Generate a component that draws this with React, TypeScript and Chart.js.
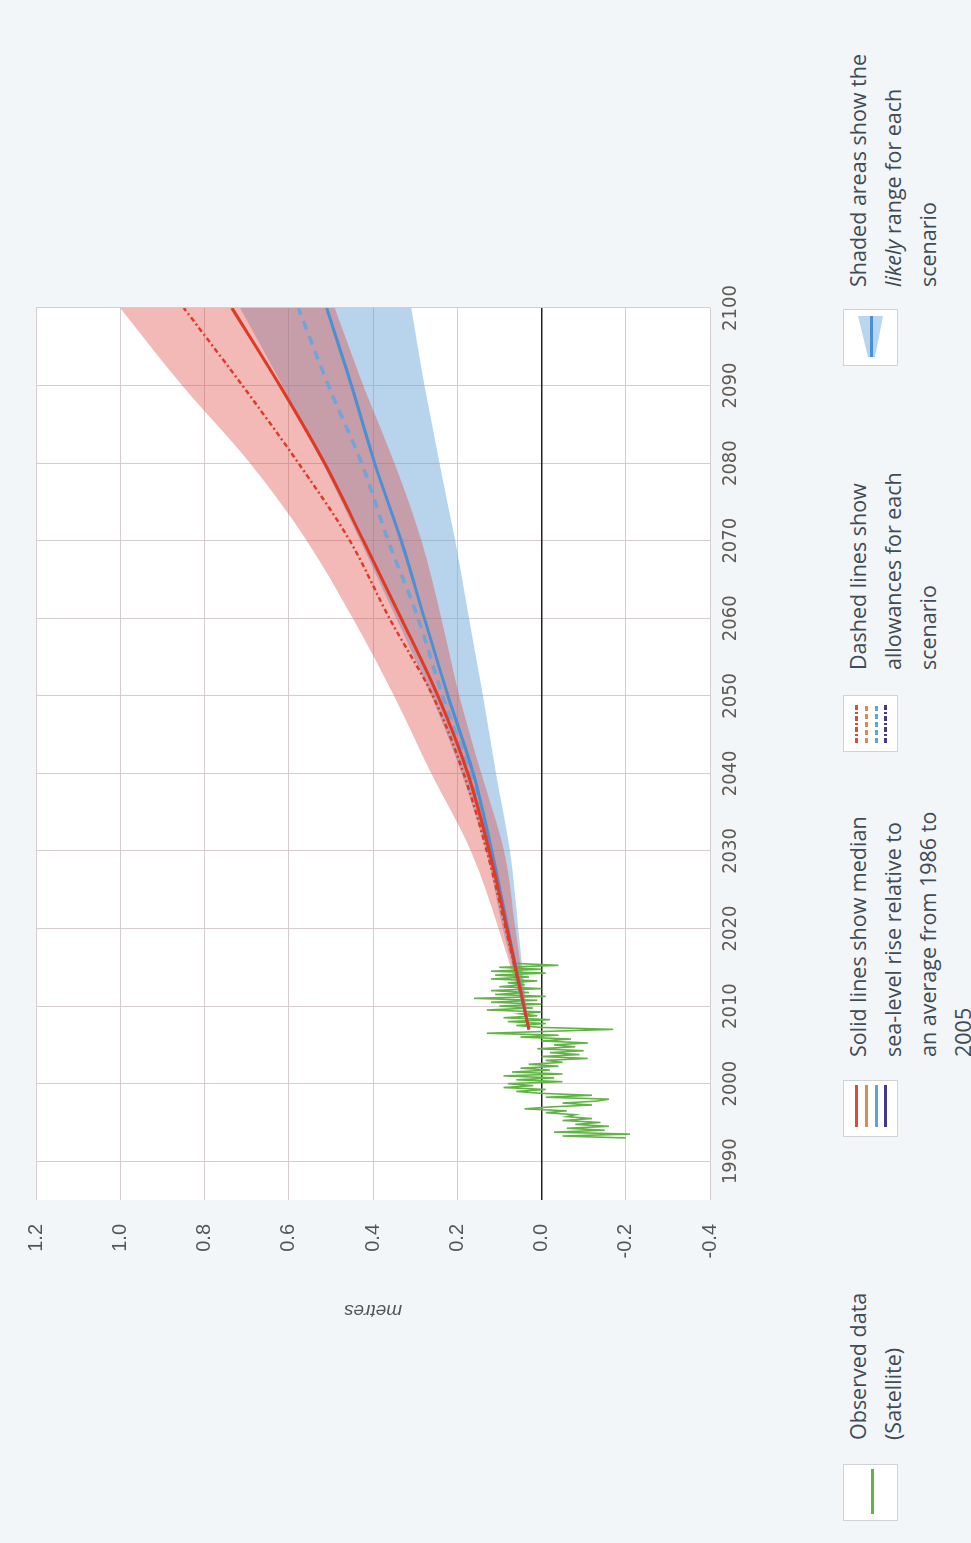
import React, { useEffect, useRef } from 'react';
import { Chart, registerables } from 'chart.js';

Chart.register(...registerables);

// ---- axes ----
const yearTicks = [1990, 2000, 2010, 2020, 2030, 2040, 2050, 2060, 2070, 2080, 2090, 2100];
const yearMin = 1985;
const yearMax = 2100;
const metreMin = -0.4;
const metreMax = 1.2;
const metreStep = 0.2;

// ---- observed satellite data (quarterly) ----
const obsYears = [
  1993.0, 1993.25, 1993.5, 1993.75, 1994.0, 1994.25, 1994.5, 1994.75,
  1995.0, 1995.25, 1995.5, 1995.75, 1996.0, 1996.25, 1996.5, 1996.75,
  1997.0, 1997.25, 1997.5, 1997.75, 1998.0, 1998.25, 1998.5, 1998.75,
  1999.0, 1999.25, 1999.5, 1999.75, 2000.0, 2000.25, 2000.5, 2000.75,
  2001.0, 2001.25, 2001.5, 2001.75, 2002.0, 2002.25, 2002.5, 2002.75,
  2003.0, 2003.25, 2003.5, 2003.75, 2004.0, 2004.25, 2004.5, 2004.75,
  2005.0, 2005.25, 2005.5, 2005.75, 2006.0, 2006.25, 2006.5, 2006.75,
  2007.0, 2007.25, 2007.5, 2007.75, 2008.0, 2008.25, 2008.5, 2008.75,
  2009.0, 2009.25, 2009.5, 2009.75, 2010.0, 2010.25, 2010.5, 2010.75,
  2011.0, 2011.25, 2011.5, 2011.75, 2012.0, 2012.25, 2012.5, 2012.75,
  2013.0, 2013.25, 2013.5, 2013.75, 2014.0, 2014.25, 2014.5, 2014.75,
  2015.0, 2015.25, 2015.5,
];
const obsValues = [
  -0.20, -0.05, -0.21, -0.03, -0.15, -0.06, -0.16, -0.08,
  -0.14, -0.05, -0.12, -0.06, -0.08, -0.01, -0.06, 0.04,
  -0.02, -0.12, -0.05, -0.13, -0.16, -0.01, -0.12, 0.00,
  0.06, -0.01, 0.09, 0.02, 0.08, -0.05, 0.06, -0.03,
  0.09, -0.05, 0.07, -0.02, 0.05, -0.04, 0.03, -0.05,
  -0.01, -0.11, 0.00, -0.09, -0.02, -0.10, 0.01, -0.08,
  -0.03, -0.11, 0.00, -0.07, 0.05, -0.04, 0.13, -0.02,
  -0.17, 0.00, 0.06, -0.01, 0.08, -0.02, 0.09, 0.01,
  0.05, 0.00, 0.13, 0.02, 0.10, 0.00, 0.12, 0.01,
  0.16, -0.01, 0.11, 0.03, 0.12, 0.00, 0.10, 0.04,
  0.08, 0.01, 0.12, 0.03, 0.11, -0.01, 0.12, 0.00,
  0.10, -0.04, 0.06,
];

// ---- projections ----
const projYears = [2007, 2020, 2030, 2040, 2050, 2060, 2070, 2080, 2090, 2100];
const redMedian = [0.03, 0.082, 0.124, 0.175, 0.246, 0.333, 0.423, 0.515, 0.621, 0.735];
const redAllowance = [0.03, 0.085, 0.13, 0.185, 0.258, 0.361, 0.455, 0.577, 0.71, 0.849];
const redUpper = [0.03, 0.102, 0.168, 0.262, 0.35, 0.448, 0.557, 0.692, 0.853, 1.0];
const redLower = [0.03, 0.062, 0.089, 0.143, 0.195, 0.238, 0.285, 0.349, 0.423, 0.491];
const blueMedian = [0.03, 0.08, 0.118, 0.162, 0.222, 0.278, 0.333, 0.396, 0.451, 0.51];
const blueAllowance = [0.03, 0.082, 0.122, 0.17, 0.235, 0.293, 0.364, 0.427, 0.506, 0.577];
const blueUpper = [0.03, 0.092, 0.132, 0.19, 0.262, 0.345, 0.43, 0.52, 0.615, 0.716];
const blueLower = [0.03, 0.055, 0.075, 0.108, 0.139, 0.172, 0.205, 0.242, 0.278, 0.309];

const zip = (xs: number[], ys: number[]) => xs.map((x, i) => ({ x, y: ys[i] }));

const plotBg = {
  id: 'plotBg',
  beforeDraw(chart: any) {
    const { ctx, chartArea: a } = chart;
    ctx.save();
    ctx.fillStyle = '#ffffff';
    ctx.fillRect(a.left, a.top, a.right - a.left, a.bottom - a.top);
    ctx.restore();
  },
};

const legendText: React.CSSProperties = {
  position: 'absolute',
  top: 840,
  fontFamily: "'Open Sans', 'Noto Sans', sans-serif",
  fontSize: 21.5,
  lineHeight: '35px',
  color: '#3f4b57',
  whiteSpace: 'nowrap',
};

const box: React.CSSProperties = {
  position: 'absolute',
  top: 843,
  width: 57,
  height: 55,
  border: '1px solid #cfd3d6',
  background: '#ffffff',
  boxSizing: 'border-box',
};

const swatchLine = (top: number, left: number, width: number, bg: string): React.CSSProperties => ({
  position: 'absolute',
  top,
  left,
  width,
  height: 3,
  background: bg,
});

const dashDot = (c: string) =>
  `repeating-linear-gradient(90deg, ${c} 0 5px, transparent 5px 7px, ${c} 7px 9px, transparent 9px 11px)`;
const dashed = (c: string) =>
  `repeating-linear-gradient(90deg, ${c} 0 5px, transparent 5px 8px)`;

export default function App() {
  const ref = useRef<HTMLCanvasElement>(null);

  useEffect(() => {
    if (!ref.current) return;
    const line = (data: any, color: string, width: number, order: number, extra: any = {}) => ({
      data,
      borderColor: color,
      borderWidth: width,
      pointRadius: 0,
      fill: false,
      order,
      cubicInterpolationMode: 'monotone',
      ...extra,
    });
    const chart = new Chart(ref.current, {
      type: 'line',
      data: {
        datasets: [
          line(zip(projYears, blueLower), 'transparent', 0, 10),
          line(zip(projYears, blueUpper), 'transparent', 0, 9, {
            fill: '-1',
            backgroundColor: 'rgba(95,160,212,0.45)',
          }),
          line(zip(projYears, redLower), 'transparent', 0, 8),
          line(zip(projYears, redUpper), 'transparent', 0, 7, {
            fill: '-1',
            backgroundColor: 'rgba(222,72,62,0.38)',
          }),
          line(zip(obsYears, obsValues), '#62b346', 1.6, 5, { cubicInterpolationMode: 'default', tension: 0 }),
          line(zip(projYears, blueAllowance), 'rgba(105,163,220,0.9)', 3.5, 4, { borderDash: [9, 7] }),
          line(zip(projYears, blueMedian), '#4b90d2', 3, 3),
          line(zip(projYears, redAllowance), '#e03a27', 2.5, 2, { borderDash: [5, 3, 2, 3] }),
          line(zip(projYears, redMedian), '#e03a27', 3, 1),
        ] as any,
      },
      options: {
        animation: false,
        responsive: true,
        maintainAspectRatio: false,
        events: [],
        layout: { padding: { left: 217, right: 308, top: 35, bottom: 0 } },
        plugins: {
          legend: { display: false },
          tooltip: { enabled: false },
          filler: { propagate: false, drawTime: 'beforeDatasetsDraw' } as any,
        },
        scales: {
          x: {
            type: 'linear',
            min: yearMin,
            max: yearMax,
            afterBuildTicks: (s: any) => {
              s.ticks = yearTicks.map((v) => ({ value: v }));
            },
            afterFit: (s: any) => {
              s.height = 90;
            },
            ticks: {
              autoSkip: false,
              maxRotation: 0,
              padding: 9,
              color: '#5f5a55',
              font: {
                family: "'Liberation Sans Narrow', 'DejaVu Sans Condensed', 'Liberation Sans', sans-serif",
                size: 20,
              },
              callback: (v: any) => String(v),
            },
            grid: { color: '#d5cdcd', lineWidth: 1, drawTicks: false },
            border: { display: false },
          },
          y: {
            type: 'linear',
            min: metreMin,
            max: metreMax,
            afterFit: (s: any) => {
              s.width = 126;
            },
            ticks: {
              stepSize: metreStep,
              padding: 24,
              color: '#555555',
              font: { family: "'Liberation Sans', Arial, sans-serif", size: 20 },
              callback: (v: any) => Number(v).toFixed(1),
            },
            grid: {
              drawTicks: false,
              color: (ctx: any) => (ctx.tick && Math.abs(ctx.tick.value) < 1e-9 ? '#222222' : '#d5cdcd'),
              lineWidth: (ctx: any) => (ctx.tick && Math.abs(ctx.tick.value) < 1e-9 ? 1.6 : 1),
            },
            border: { display: false },
            title: {
              display: true,
              text: 'metres',
              color: '#555555',
              padding: { top: 4, bottom: 4 },
              font: { family: "'Liberation Sans', Arial, sans-serif", size: 19, style: 'italic' },
            },
          },
        },
      },
      plugins: [plotBg],
    });
    return () => chart.destroy();
  }, []);

  return (
    <div
      style={{
        position: 'fixed',
        left: 0,
        top: 0,
        width: 971,
        height: 1543,
        background: '#f3f6f8',
        overflow: 'hidden',
      }}
    >
      <div
        style={{
          position: 'absolute',
          left: 0,
          top: 0,
          width: 1543,
          height: 971,
          transformOrigin: '0 0',
          transform: 'translate(0px, 1543px) rotate(-90deg)',
        }}
      >
        <div style={{ position: 'absolute', left: 0, top: 0, width: 1543, height: 800 }}>
          <canvas ref={ref} />
        </div>

        {/* legend item 1 */}
        <div style={{ ...box, left: 22 }}>
          <div style={swatchLine(27, 6, 45, '#62b346')} />
        </div>
        <div style={{ ...legendText, left: 103 }}>
          Observed data
          <br />
          (Satellite)
        </div>

        {/* legend item 2 */}
        <div style={{ ...box, left: 406 }}>
          <div style={swatchLine(11, 9, 42, '#e04a36')} />
          <div style={swatchLine(21, 9, 42, '#e08a45')} />
          <div style={swatchLine(31, 9, 42, '#5ea2de')} />
          <div style={swatchLine(40, 9, 42, '#46398a')} />
        </div>
        <div style={{ ...legendText, left: 486 }}>
          Solid lines show median
          <br />
          sea-level rise relative to
          <br />
          an average from 1986 to
          <br />
          2005
        </div>

        {/* legend item 3 */}
        <div style={{ ...box, left: 791 }}>
          <div style={swatchLine(11, 8, 40, dashDot('#e04a36'))} />
          <div style={swatchLine(21, 8, 40, dashed('#e08a45'))} />
          <div style={swatchLine(31, 8, 40, dashed('#5ea2de'))} />
          <div style={swatchLine(40, 8, 40, dashDot('#46398a'))} />
        </div>
        <div style={{ ...legendText, left: 873 }}>
          Dashed lines show
          <br />
          allowances for each
          <br />
          scenario
        </div>

        {/* legend item 4 */}
        <div style={{ ...box, left: 1177 }}>
          <div
            style={{
              position: 'absolute',
              left: 0,
              top: 0,
              width: 57,
              height: 55,
              background: 'linear-gradient(90deg, rgba(120,175,220,0.55), rgba(150,195,230,0.65))',
              clipPath: 'polygon(8px 24px, 49px 14px, 49px 39px, 8px 31px)',
            }}
          />
          <div style={swatchLine(26, 8, 41, '#4b8fd0')} />
        </div>
        <div style={{ ...legendText, left: 1256 }}>
          Shaded areas show the
          <br />
          <i>likely</i> range for each
          <br />
          scenario
        </div>
      </div>
    </div>
  );
}
